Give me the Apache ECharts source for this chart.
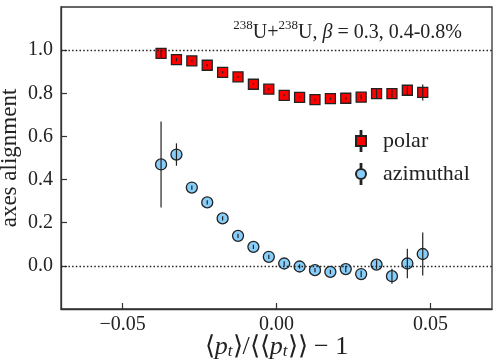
<!DOCTYPE html>
<html>
<head>
<meta charset="utf-8">
<script src="https://cdn.jsdelivr.net/npm/echarts@6/dist/echarts.min.js"></script>
<style>
    html, body { margin: 0; padding: 0; background: #fff; }
    #chart { width: 499px; height: 364px; }
</style>
</head>
<body>
<div id="chart"></div>
<script>
// <pt>/<<pt>> - 1 bin centres
var xVals = [-0.0375, -0.0325, -0.0275, -0.0225, -0.0175, -0.0125, -0.0075, -0.0025, 0.0025,
    0.0075, 0.0125, 0.0175, 0.0225, 0.0275, 0.0325, 0.0375, 0.0425, 0.0475];
var polar = [0.985, 0.956, 0.950, 0.930, 0.897, 0.876, 0.842, 0.819, 0.790,
    0.781, 0.771, 0.775, 0.777, 0.782, 0.798, 0.798, 0.814, 0.804];
var polarErr = [0.018, 0.008, 0.006, 0.006, 0.005, 0.004, 0.004, 0.004, 0.004,
    0.004, 0.004, 0.006, 0.007, 0.012, 0.020, 0.020, 0.022, 0.037];
var azimuthal = [0.470, 0.516, 0.363, 0.294, 0.220, 0.139, 0.088, 0.042, 0.011,
    -0.003, -0.020, -0.028, -0.015, -0.038, 0.006, -0.048, 0.011, 0.055];
var azimuthalErr = [0.199, 0.052, 0.010, 0.010, 0.010, 0.010, 0.010, 0.010, 0.010,
    0.010, 0.010, 0.010, 0.015, 0.015, 0.020, 0.035, 0.068, 0.100];
var xTicks = [-0.05, 0, 0.05];
var xTickLabels = ['\u22120.05', '0.00', '0.05'];
var yTicks = [0, 0.2, 0.4, 0.6, 0.8, 1.0];

var serif = 'Liberation Serif';
var frame = '#333';

function pairs(ys) {
    return xVals.map(function (x, i) { return [x, ys[i]]; });
}
function triples(ys, errs) {
    return xVals.map(function (x, i) { return [x, ys[i], errs[i]]; });
}
function errorBars(params, api) {
    var x = api.value(0), y = api.value(1), e = api.value(2);
    var lo = api.coord([x, y - e]);
    var hi = api.coord([x, y + e]);
    return {
        type: 'line',
        shape: { x1: lo[0], y1: lo[1], x2: hi[0], y2: hi[1] },
        style: { stroke: '#222', lineWidth: 1.2 }
    };
}

var chart = echarts.init(document.getElementById('chart'));
var option = {
    animation: false,
    backgroundColor: '#fff',
    grid: {
        left: 61, right: 7, top: 7, bottom: 55,
        outerBoundsMode: 'none',
        containLabel: false,
        show: true, borderColor: frame, borderWidth: 1.3
    },
    legend: {
        orient: 'vertical',
        left: 350,
        top: 125,
        itemWidth: 10,
        itemHeight: 20,
        itemGap: 11,
        textStyle: { fontFamily: serif, fontSize: 22, color: '#222', padding: [0, 0, 0, 12] },
        data: [
            { name: 'polar', icon: 'path://M4.6,0 L5.4,0 L5.4,5 L4.6,5 Z M0,5 L10,5 L10,15 L0,15 Z M4.6,15 L5.4,15 L5.4,20 L4.6,20 Z' },
            { name: 'azimuthal', icon: 'path://M4.6,0 L5.4,0 L5.4,5 L4.6,5 Z M0,10 A5,5 0 1,0 10,10 A5,5 0 1,0 0,10 Z M4.6,15 L5.4,15 L5.4,20 L4.6,20 Z' }
        ]
    },
    graphic: [{
        type: 'text',
        right: 37,
        top: 19,
        style: {
            text: '{s|238}{n|U+}{s|238}{n|U, }{i|\u03b2}{n| = 0.3, 0.4-0.8%}',
            fill: '#222',
            rich: {
                n: { fontFamily: serif, fontSize: 20, lineHeight: 24, verticalAlign: 'bottom', color: '#222' },
                i: { fontFamily: serif, fontSize: 20, fontStyle: 'italic', lineHeight: 24, verticalAlign: 'bottom', color: '#222' },
                s: { fontFamily: serif, fontSize: 13, lineHeight: 24, verticalAlign: 'top', color: '#222' }
            }
        }
    }],
    xAxis: {
        type: 'value',
        min: -0.07,
        max: 0.07,
        splitLine: { show: false },
        axisLine: { show: true, onZero: false, lineStyle: { color: frame, width: 1.3 } },
        axisTick: { inside: true, length: 6, customValues: xTicks, lineStyle: { color: frame, width: 1.2 } },
        axisLabel: {
            customValues: xTicks,
            margin: 6,
            fontFamily: serif, fontSize: 20, color: '#222',
            formatter: function (v) {
                var k = xTicks.findIndex(function (t) { return Math.abs(t - v) < 1e-9; });
                return k >= 0 ? xTickLabels[k] : '';
            }
        },
        name: '{a|\u27e8}{i|p}{t|t}{a|\u27e9/\u27e8\u27e8}{i|p}{t|t}{a|\u27e9\u27e9 \u2212 1}',
        nameLocation: 'middle',
        nameMoveOverlap: false,
        nameGap: 23,
        nameTextStyle: {
            rich: {
                a: { fontFamily: serif, fontSize: 26, color: '#222', lineHeight: 28, verticalAlign: 'bottom' },
                i: { fontFamily: serif, fontSize: 26, fontStyle: 'italic', color: '#222', lineHeight: 28, verticalAlign: 'bottom' },
                t: { fontFamily: serif, fontSize: 17, fontStyle: 'italic', color: '#222', lineHeight: 23, verticalAlign: 'bottom' }
            }
        }
    },
    yAxis: {
        type: 'value',
        min: -0.2,
        max: 1.2,
        splitLine: { show: false },
        axisLine: { show: true, onZero: false, lineStyle: { color: frame, width: 1.3 } },
        axisTick: { inside: true, length: 6, customValues: yTicks, lineStyle: { color: frame, width: 1.2 } },
        axisLabel: {
            customValues: yTicks,
            margin: 8,
            fontFamily: serif, fontSize: 20, color: '#222',
            formatter: function (v) { return v.toFixed(1); }
        },
        name: 'axes alignment',
        nameLocation: 'middle',
        nameMoveOverlap: false,
        nameRotate: 90,
        nameGap: 40,
        nameTextStyle: { fontFamily: serif, fontSize: 23, color: '#222' }
    },
    series: [
        {
            name: 'polar',
            type: 'scatter',
            symbol: 'rect',
            symbolSize: 10,
            itemStyle: { color: '#ff0000', borderColor: '#222', borderWidth: 1.3, opacity: 1 },
            data: pairs(polar),
            z: 3,
            markLine: {
                silent: true,
                symbol: 'none',
                label: { show: false },
                lineStyle: { type: [1.5, 2.2], color: '#222', width: 1.3 },
                data: [{ yAxis: 1 }, { yAxis: 0 }]
            }
        },
        {
            name: 'azimuthal',
            type: 'scatter',
            symbol: 'circle',
            symbolSize: 11,
            itemStyle: { color: '#87cefa', borderColor: '#222', borderWidth: 1.3, opacity: 1 },
            data: pairs(azimuthal),
            z: 3
        },
        {
            type: 'custom',
            renderItem: errorBars,
            data: triples(polar, polarErr),
            z: 4,
            silent: true
        },
        {
            type: 'custom',
            renderItem: errorBars,
            data: triples(azimuthal, azimuthalErr),
            z: 4,
            silent: true
        }
    ]
};
chart.setOption(option);
</script>
</body>
</html>
